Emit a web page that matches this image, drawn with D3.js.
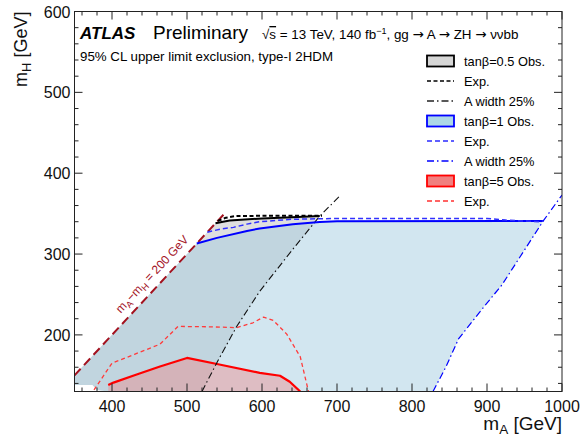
<!DOCTYPE html>
<html>
<head>
<meta charset="utf-8">
<script src="https://cdn.jsdelivr.net/npm/d3@7"></script>
<style>
  html, body { margin: 0; padding: 0; background: #fff; }
  svg { display: block; font-family: "Liberation Sans", Arial, Helvetica, sans-serif; }
  .arrow { font-family: "DejaVu Sans", sans-serif; }
</style>
</head>
<body>
<svg id="chart" width="581" height="437"></svg>
<script>
// Axis ranges and tick values (GeV)
const xDomain = [350, 1000];
const yDomain = [130, 600];
const xTickLabels = [400, 500, 600, 700, 800, 900, 1000];
const yTickLabels = [200, 300, 400, 500, 600];
const minorStep = 20;

// mA - mH = 200 GeV kinematic line, [mA, mH]
const kinematicLine = [[350, 150], [550, 350]];

// tan(beta) = 0.5 : observed, expected, A-width 25% boundary, [mA, mH]
const tb05Obs = [[538, 338], [548, 340], [557, 341.5], [600, 344], [640, 345.5], [677, 347]];
const tb05Exp = [[541, 341], [552, 345], [565, 347], [620, 347.5], [680, 347.5]];
const tb05Width = [[520, 130], [540, 166], [566, 210], [597, 254], [642, 307], [677, 347], [704, 372]];

// tan(beta) = 1
const tb1Obs = [[513, 313], [540, 320], [580, 328.6], [597, 331.6], [641, 337], [677, 339.5], [700, 340.5], [975, 341]];
const tb1Exp = [[527, 327], [545, 331], [562, 333], [580, 337], [597, 340], [640, 343], [700, 344], [900, 344], [925, 342], [970, 340], [975, 341]];
const tb1Width = [[828, 130], [845, 160], [862, 195], [890, 228], [920, 262], [950, 305], [975, 341], [1000, 373]];

// tan(beta) = 5
const tb5Obs = [[395, 138], [402, 141], [430, 150], [464, 161], [500, 171.5], [540, 164], [597, 153], [624, 149.5], [637, 142], [651, 130]];
const tb5Exp = [[376, 132], [400, 165], [430, 176], [464, 188.5], [488, 210.5], [530, 210], [566, 209], [588, 215], [602, 222], [615, 218], [633, 201], [651, 173], [662, 130]];

// Uncovered corner at low mA / low mH
const lowCorner = [[395, 130], [380, 132], [374, 138], [350, 138]];

const legendEntries = [
  { label: "tanβ=0.5 Obs.", kind: "box", fill: "#d6d6d6", stroke: "#000" },
  { label: "Exp.", kind: "line", stroke: "#000", dash: "4,2.5", width: 1.6 },
  { label: "A width 25%", kind: "line", stroke: "#222", dash: "7,3,1.5,3", width: 1.6 },
  { label: "tanβ=1 Obs.", kind: "box", fill: "#add8e6", stroke: "#0000ff" },
  { label: "Exp.", kind: "line", stroke: "#2a2aff", dash: "5,3", width: 1.6 },
  { label: "A width 25%", kind: "line", stroke: "#0000ff", dash: "7,3,1.5,3", width: 1.6 },
  { label: "tanβ=5 Obs.", kind: "box", fill: "#f08080", stroke: "#ff0000" },
  { label: "Exp.", kind: "line", stroke: "#ff3030", dash: "5,3", width: 1.6 }
];

const W = 581, H = 437;
const margin = { left: 74.5, right: 19, top: 11.5, bottom: 45.5 };
const svg = d3.select("#chart");

const x = d3.scaleLinear().domain(xDomain).range([margin.left, W - margin.right]);
const y = d3.scaleLinear().domain(yDomain).range([H - margin.bottom, margin.top]);

svg.append("defs").append("clipPath").attr("id", "plotClip")
  .append("rect")
  .attr("x", x(xDomain[0])).attr("y", y(yDomain[1]))
  .attr("width", x(xDomain[1]) - x(xDomain[0]))
  .attr("height", y(yDomain[0]) - y(yDomain[1]));

const plot = svg.append("g").attr("clip-path", "url(#plotClip)");
const line = d3.line().x(d => x(d[0])).y(d => y(d[1]));

// Region polygons: kinematic edge, observed contour, width boundary, lower edge
const diagTo = mA => [[350, 150], [mA, mA - 200]];
const tb05Region = [...diagTo(tb05Obs[0][0]), ...tb05Obs,
  ...tb05Width.filter(d => d[1] <= tb05Obs[tb05Obs.length - 1][1]).reverse(), ...lowCorner];
const tb1Region = [...diagTo(tb1Obs[0][0]), ...tb1Obs,
  ...tb1Width.filter(d => d[1] <= tb1Obs[tb1Obs.length - 1][1]).reverse(), ...lowCorner];
const tb5Region = [...tb5Obs, [tb5Obs[0][0], 130]];

plot.append("path").attr("d", line(tb05Region) + "Z")
  .attr("fill", "#c4c4c4").attr("fill-opacity", 0.55);
plot.append("path").attr("d", line(tb1Region) + "Z")
  .attr("fill", "#9fcae0").attr("fill-opacity", 0.47);
plot.append("path").attr("d", line(tb5Region) + "Z")
  .attr("fill", "#f08080").attr("fill-opacity", 0.4);

// Kinematic limit
plot.append("path").attr("d", line(kinematicLine))
  .attr("fill", "none").attr("stroke", "#a3121f").attr("stroke-width", 2)
  .attr("stroke-dasharray", "9,5");

function drawLine(data, stroke, width, dash) {
  plot.append("path").attr("d", line(data))
    .attr("fill", "none").attr("stroke", stroke).attr("stroke-width", width)
    .attr("stroke-dasharray", dash || null).attr("stroke-linejoin", "round");
}

drawLine(tb5Exp, "#ff3b3b", 1.3, "4,3");
drawLine(tb5Obs, "#ff0000", 2.2);
drawLine(tb1Width, "#0000ff", 1.2, "7,3,1.5,3");
drawLine(tb05Width, "#111", 1.1, "7,3,1.5,3");
drawLine(tb1Obs, "#0000ff", 2);
drawLine(tb1Exp, "#3030ff", 1.5, "5,3");
drawLine(tb05Obs, "#000", 2);
drawLine(tb05Exp, "#000", 2, "4,2.5");

// Label along the kinematic line
{
  const a0 = kinematicLine[0], a1 = kinematicLine[1];
  const ang = Math.atan2(y(a1[1]) - y(a0[1]), x(a1[0]) - x(a0[0])) * 180 / Math.PI;
  const mA = 465, px = x(mA), py = y(mA - 200);
  const off = 8, rad = ang * Math.PI / 180;
  const tx = px + off * Math.sin(rad), ty = py - off * Math.cos(rad);
  const t = svg.append("text")
    .attr("transform", `translate(${tx},${ty}) rotate(${ang})`)
    .attr("text-anchor", "middle").attr("fill", "#a3121f").attr("font-size", 12);
  t.append("tspan").text("m");
  t.append("tspan").attr("font-size", 9).attr("dy", 3).text("A");
  t.append("tspan").attr("dy", -3).text("−m");
  t.append("tspan").attr("font-size", 9).attr("dy", 3).text("H");
  t.append("tspan").attr("dy", -3).text(" = 200 GeV");
}

// Frame and ticks (ticks on all four sides, pointing inward)
const frame = svg.append("g").attr("stroke", "#222").attr("stroke-width", 1);
frame.append("rect")
  .attr("x", x(xDomain[0])).attr("y", y(yDomain[1]))
  .attr("width", x(xDomain[1]) - x(xDomain[0]))
  .attr("height", y(yDomain[0]) - y(yDomain[1]))
  .attr("fill", "none");

const xMinor = d3.range(360, xDomain[1] + 1, minorStep);
const yMinor = d3.range(140, yDomain[1] + 1, minorStep);
const majLen = 8, minLen = 4;
xMinor.forEach(v => {
  const len = v % 100 === 0 ? majLen : minLen;
  frame.append("line").attr("x1", x(v)).attr("x2", x(v))
    .attr("y1", y(yDomain[0])).attr("y2", y(yDomain[0]) - len);
  frame.append("line").attr("x1", x(v)).attr("x2", x(v))
    .attr("y1", y(yDomain[1])).attr("y2", y(yDomain[1]) + len);
});
yMinor.forEach(v => {
  const len = v % 100 === 0 ? majLen : minLen;
  frame.append("line").attr("y1", y(v)).attr("y2", y(v))
    .attr("x1", x(xDomain[0])).attr("x2", x(xDomain[0]) + len);
  frame.append("line").attr("y1", y(v)).attr("y2", y(v))
    .attr("x1", x(xDomain[1])).attr("x2", x(xDomain[1]) - len);
});

// Tick labels
svg.append("g").selectAll("text").data(xTickLabels).join("text")
  .attr("x", d => x(d)).attr("y", y(yDomain[0]) + 20)
  .attr("text-anchor", "middle").attr("font-size", 16).attr("fill", "#111")
  .text(d => d);
svg.append("g").selectAll("text").data(yTickLabels).join("text")
  .attr("x", x(xDomain[0]) - 4).attr("y", d => y(d) + 6)
  .attr("text-anchor", "end").attr("font-size", 16).attr("fill", "#111")
  .text(d => d);

// Axis titles
{
  const t = svg.append("text").attr("x", x(xDomain[1])).attr("y", 430)
    .attr("text-anchor", "end").attr("font-size", 19).attr("fill", "#111");
  t.append("tspan").text("m");
  t.append("tspan").attr("font-size", 13.5).attr("dy", 4).text("A");
  t.append("tspan").attr("dy", -4).text(" [GeV]");
}
{
  const t = svg.append("text")
    .attr("transform", `translate(27,${y(yDomain[1])}) rotate(-90)`)
    .attr("text-anchor", "end").attr("font-size", 18).attr("fill", "#111");
  t.append("tspan").text("m");
  t.append("tspan").attr("font-size", 13).attr("dy", 4).text("H");
  t.append("tspan").attr("dy", -4).text(" [GeV]");
}

// Header
{
  const fs = 13.4;
  const t = svg.append("text").attr("x", 80).attr("y", 39).attr("fill", "#000");
  t.append("tspan").attr("font-weight", "bold").attr("font-style", "italic")
    .attr("font-size", 17).text("ATLAS");
  t.append("tspan").attr("x", 153).attr("font-size", 19).text("Preliminary");
  t.append("tspan").attr("x", 262).attr("font-size", fs).text("√");
  t.append("tspan").attr("font-size", fs).attr("text-decoration", "overline").text("s");
  t.append("tspan").attr("font-size", fs).text(" = 13 TeV, 140 fb");
  t.append("tspan").attr("font-size", 9).attr("dy", -5).text("−1");
  t.append("tspan").attr("font-size", fs).attr("dy", 5).text(", gg ");
  t.append("tspan").attr("class", "arrow").attr("font-size", fs).text("→");
  t.append("tspan").attr("font-size", fs).text(" A ");
  t.append("tspan").attr("class", "arrow").attr("font-size", fs).text("→");
  t.append("tspan").attr("font-size", fs).text(" ZH ");
  t.append("tspan").attr("class", "arrow").attr("font-size", fs).text("→");
  t.append("tspan").attr("font-size", fs).text(" ννbb");

  svg.append("text").attr("x", 80).attr("y", 61).attr("font-size", 13.3).attr("fill", "#000")
    .text("95% CL upper limit exclusion, type-I 2HDM");
}

// Legend
{
  const lx = 427, sw = 27, ly0 = 61, step = 20;
  const g = svg.append("g");
  legendEntries.forEach((e, i) => {
    const cy = ly0 + i * step;
    if (e.kind === "box") {
      g.append("rect").attr("x", lx).attr("y", cy - 5.5).attr("width", sw).attr("height", 11)
        .attr("fill", e.fill).attr("stroke", e.stroke).attr("stroke-width", 1.8);
    } else {
      g.append("line").attr("x1", lx).attr("x2", lx + sw).attr("y1", cy).attr("y2", cy)
        .attr("stroke", e.stroke).attr("stroke-width", e.width).attr("stroke-dasharray", e.dash);
    }
    g.append("text").attr("x", lx + 37).attr("y", cy + 4.5).attr("font-size", 12.8)
      .attr("fill", "#000").text(e.label);
  });
}
</script>
</body>
</html>
